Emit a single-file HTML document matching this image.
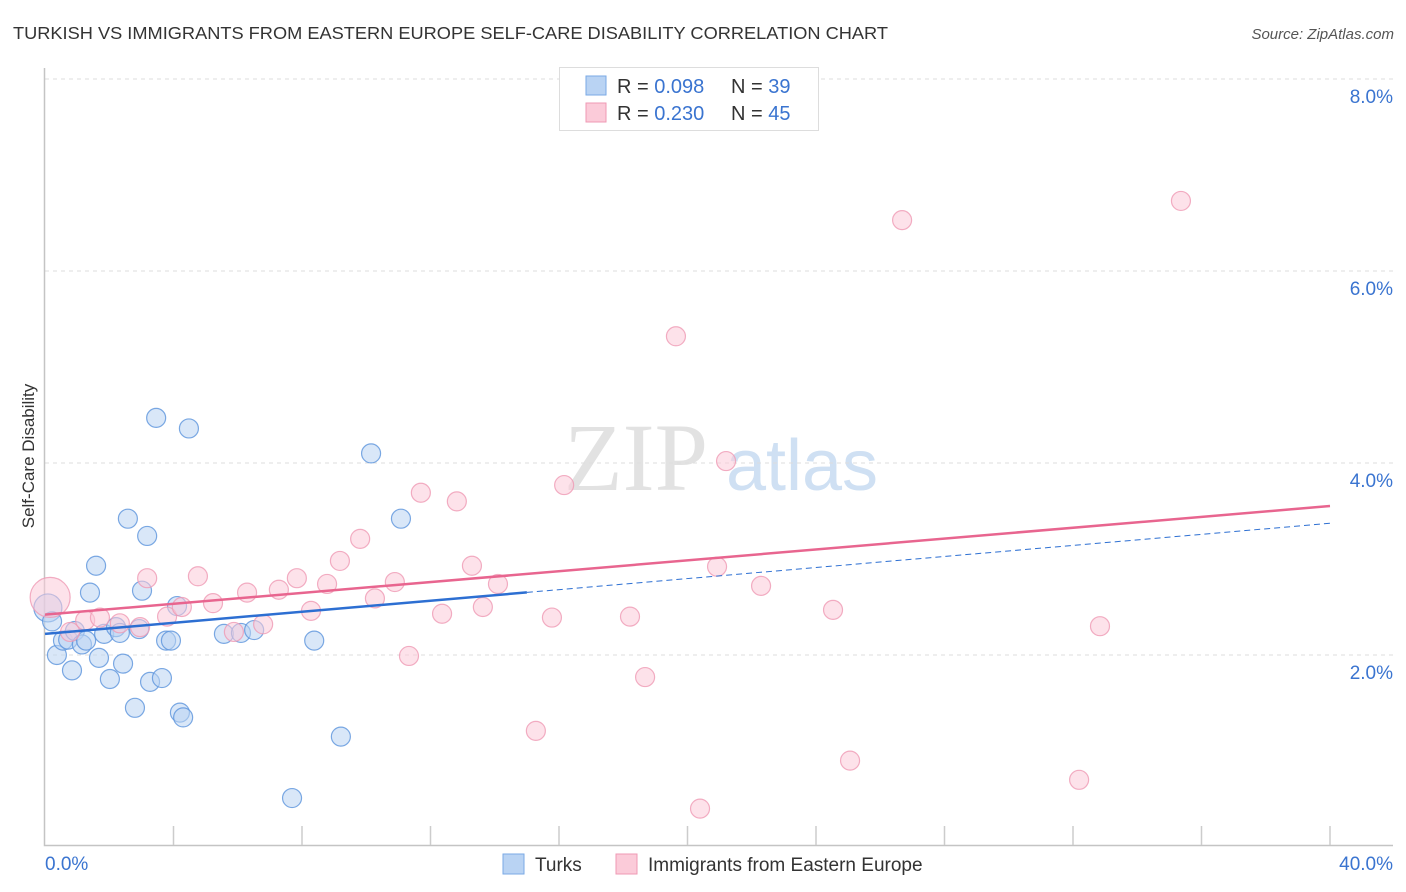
<!DOCTYPE html>
<html><head><meta charset="utf-8"><style>
body{margin:0;background:#fff;width:1406px;height:892px;overflow:hidden;font-family:"Liberation Sans",sans-serif}
svg{display:block}
</style></head><body>
<svg id="chart" width="1406" height="892">
<text x="13" y="39" font-size="17.5" fill="#333" textLength="875" lengthAdjust="spacingAndGlyphs">TURKISH VS IMMIGRANTS FROM EASTERN EUROPE SELF-CARE DISABILITY CORRELATION CHART</text>
<text x="1394" y="39" font-size="15" fill="#555" font-style="italic" text-anchor="end">Source: ZipAtlas.com</text>
<text x="34" y="456" font-size="17" fill="#333" text-anchor="middle" transform="rotate(-90 34 456)">Self-Care Disability</text>
<g>
<text x="636" y="490" font-size="96" fill="#e2e2e2" font-family="Liberation Serif,serif" text-anchor="middle">ZIP</text>
<text x="802" y="490" font-size="72" fill="#cfe0f3" text-anchor="middle">atlas</text>
</g>
<g id="grid"></g>
<g id="axes"></g>
<g id="pts"></g>
<g id="lines"></g>
<g>
<rect x="559.5" y="67.5" width="259" height="63" fill="#fff" stroke="#ddd"/>
<rect x="586" y="76" width="20" height="19" fill="#b9d3f3" stroke="#7aaae6"/>
<rect x="586" y="103" width="20" height="19" fill="#fbcbd9" stroke="#ef9ab4"/>
<text x="617" y="93" font-size="20" fill="#333">R = <tspan fill="#3a74d0">0.098</tspan><tspan x="731">N = </tspan><tspan fill="#3a74d0">39</tspan></text>
<text x="617" y="120" font-size="20" fill="#333">R = <tspan fill="#3a74d0">0.230</tspan><tspan x="731">N = </tspan><tspan fill="#3a74d0">45</tspan></text>
</g>
<g>
<rect x="503" y="854" width="21" height="20" fill="#b9d3f3" stroke="#7aaae6"/>
<text x="535" y="871" font-size="19" fill="#333">Turks</text>
<rect x="616" y="854" width="21" height="20" fill="#fbcbd9" stroke="#ef9ab4"/>
<text x="648" y="871" font-size="19" fill="#333">Immigrants from Eastern Europe</text>
</g>
</svg>
<script>
const yTicks=[2,4,6,8];
const yTickLabels=["2.0%","4.0%","6.0%","8.0%"];
const xTicks=[0,4,8,12,16,20,24,28,32,36,40];
const turksX=[0.09,0.22,0.37,0.56,0.72,0.84,0.93,1.15,1.28,1.40,1.59,1.68,1.84,2.02,2.21,2.33,2.43,2.58,2.80,2.93,3.02,3.18,3.27,3.46,3.64,3.77,3.92,4.11,4.20,4.30,4.48,5.57,6.10,6.51,7.69,8.38,9.21,10.15,11.08];
const turksY=[2.49,2.35,2.00,2.15,2.16,1.84,2.25,2.11,2.15,2.65,2.93,1.97,2.22,1.75,2.29,2.23,1.91,3.42,1.45,2.27,2.67,3.24,1.72,4.47,1.76,2.15,2.15,2.51,1.40,1.35,4.36,2.22,2.23,2.26,0.51,2.15,1.15,4.10,3.42];
const immX=[0.16,0.78,1.25,1.71,2.33,2.96,3.18,3.80,4.26,4.76,5.23,5.88,6.29,6.79,7.28,7.84,8.28,8.78,9.18,9.81,10.27,10.89,11.33,11.70,12.36,12.82,13.29,13.63,14.10,15.28,15.78,16.16,18.21,18.68,19.64,20.39,20.92,21.20,22.29,24.53,25.06,26.68,32.19,32.84,35.36];
const immY=[2.60,2.24,2.36,2.39,2.33,2.29,2.80,2.40,2.50,2.82,2.54,2.24,2.65,2.32,2.68,2.80,2.46,2.74,2.98,3.21,2.59,2.76,1.99,3.69,2.43,3.60,2.93,2.50,2.74,1.21,2.39,3.77,2.40,1.77,5.32,0.40,2.92,4.02,2.72,2.47,0.90,6.53,0.70,2.30,6.73];
const turksTrend=[2.22,0.0288];
const immTrend=[2.42,0.0283];
const turksSolidEnd=15;
const X=v=>45+v*1285/40, Y=v=>847-v*96;
const NS="http://www.w3.org/2000/svg";
function mk(p,t,a){const e=document.createElementNS(NS,t);for(const k in a)e.setAttribute(k,a[k]);p.appendChild(e);return e;}
const grid=document.getElementById('grid'),axes=document.getElementById('axes'),pts=document.getElementById('pts'),lines=document.getElementById('lines');
yTicks.forEach((v,i)=>{
 const l=mk(grid,'line',{x1:45,x2:1393,y1:Y(v),y2:Y(v),stroke:'#ddd','stroke-dasharray':'4,4'});
 
 
 const t=mk(grid,'text',{x:1393,y:Y(v)+24,'font-size':19,fill:'#3a74d0','text-anchor':'end'});
 t.textContent=yTickLabels[i];
 
 
});
const al=mk(axes,'path',{d:'M44.5 68 V845.5 H1393',fill:'none',stroke:'#c4c4c4','stroke-width':1.5});


xTicks.forEach(v=>{if(v===0)return;
 const l=mk(axes,'line',{x1:X(v),x2:X(v),y1:826,y2:845,stroke:'#ccc','stroke-width':1.5});
 
 
});
const xl0=mk(axes,'text',{x:45,y:870,'font-size':19,fill:'#3a74d0'});xl0.textContent='0.0%';


const xl1=mk(axes,'text',{x:1393,y:870,'font-size':19,fill:'#3a74d0','text-anchor':'end'});xl1.textContent='40.0%';


function dots(xs,ys,fill,stroke,name){xs.forEach((x,i)=>{
 const r=(i===0)?(name==='immigrant-point'?20:14):9.5;
 const c=mk(pts,'circle',{cx:X(x),cy:Y(ys[i]),r:r,fill:fill,'fill-opacity':0.55,stroke:stroke,'stroke-opacity':0.8,'stroke-width':1.2});
 
 
});}
dots(turksX,turksY,'#b9d3f3','#5b93dc','turks-point');
dots(immX,immY,'#fbcbd9','#ef9ab4','immigrant-point');
const it=mk(lines,'line',{x1:X(0),y1:Y(immTrend[0]),x2:X(40),y2:Y(immTrend[0]+immTrend[1]*40),stroke:'#e8658f','stroke-width':2.5});


const ts=mk(lines,'line',{x1:X(0),y1:Y(turksTrend[0]),x2:X(turksSolidEnd),y2:Y(turksTrend[0]+turksTrend[1]*turksSolidEnd),stroke:'#2d6fd2','stroke-width':2.5});


const td=mk(lines,'line',{x1:X(turksSolidEnd),y1:Y(turksTrend[0]+turksTrend[1]*turksSolidEnd),x2:X(40),y2:Y(turksTrend[0]+turksTrend[1]*40),stroke:'#2d6fd2','stroke-width':1,'stroke-dasharray':'6,4'});


</script>
</body></html>
